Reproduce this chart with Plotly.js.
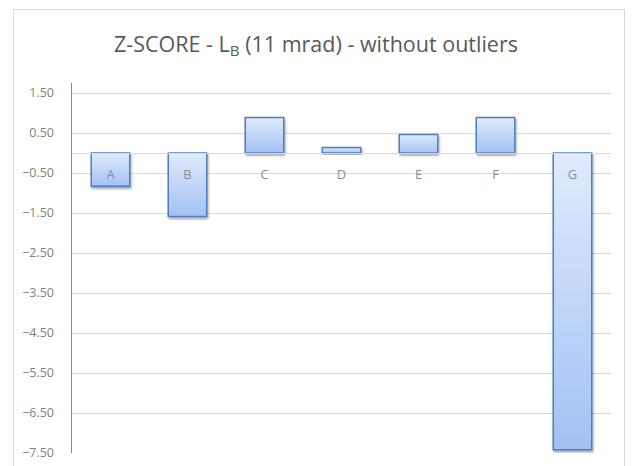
<!DOCTYPE html>
<html>
<head>
<meta charset="utf-8">
<script src="https://cdn.plot.ly/plotly-3.0.1.min.js"></script>
<style>
html,body{margin:0;padding:0;background:#fff;}
#wrap{position:relative;width:632px;height:466px;}
#chart{position:absolute;left:0;top:0;width:632px;height:466px;}
#frame{position:absolute;left:13px;top:9px;width:612px;height:470px;border:1px solid #d9d9d9;pointer-events:none;box-sizing:border-box;}
</style>
</head>
<body>
<div id="wrap"><div id="chart"></div><div id="frame"></div></div>
<script>
var categories = ["A", "B", "C", "D", "E", "F", "G"];
var zScores = [-0.83, -1.59, 0.89, 0.14, 0.46, 0.89, -7.42];
var yTickValues = [1.5, 0.5, -0.5, -1.5, -2.5, -3.5, -4.5, -5.5, -6.5, -7.5];
var chartTitle = "Z-SCORE - L<sub>B</sub> (11 mrad) - without outliers";

var yMin = -7.5, yMax = 1.75;
var zeroPos = (0 - yMin) / (yMax - yMin);

var trace = {
  type: "bar",
  x: categories,
  y: zScores,
  marker: {color: "#c3d7f8", line: {color: "#4f7dbd", width: 1.5}},
  hoverinfo: "x+y"
};

var layout = {
  width: 632, height: 466,
  margin: {l: 72, r: 21, t: 83, b: 13},
  paper_bgcolor: "#ffffff",
  plot_bgcolor: "#ffffff",
  showlegend: false,
  bargap: 0.5,
  font: {family: "Open Sans, sans-serif", color: "#7f7f7f"},
  title: {
    text: chartTitle,
    font: {family: "Open Sans, sans-serif", size: 21.5, color: "#595959"},
    x: 0.5, xref: "container", xanchor: "center",
    y: 1 - 44 / 466, yref: "container", yanchor: "middle"
  },
  xaxis: {
    type: "category",
    anchor: "free",
    position: zeroPos,
    showline: true,
    linecolor: "#d9d9d9",
    linewidth: 1,
    showgrid: false,
    zeroline: false,
    ticks: "",
    ticklabelstandoff: 9,
    tickfont: {size: 13, color: "#8c8c8c"},
    fixedrange: true
  },
  yaxis: {
    range: [yMin, yMax],
    tickvals: yTickValues,
    tickformat: ".2f",
    showgrid: true,
    gridcolor: "#d9d9d9",
    gridwidth: 1,
    zeroline: false,
    showline: true,
    linecolor: "#8c8c8c",
    linewidth: 1.5,
    ticks: "",
    ticklabelstandoff: 14,
    tickfont: {size: 12.5, color: "#7f7f7f"},
    fixedrange: true
  }
};

Plotly.newPlot("chart", [trace], layout, {displayModeBar: false, staticPlot: true}).then(function (gd) {
  var svg = gd.querySelector("svg.main-svg");
  var ns = "http://www.w3.org/2000/svg";
  var defs = document.createElementNS(ns, "defs");
  defs.innerHTML =
    '<linearGradient id="barGrad" x1="0" y1="0" x2="0" y2="1">' +
    '<stop offset="0" stop-color="#e0ebfc"/>' +
    '<stop offset="1" stop-color="#a2c1f4"/>' +
    '</linearGradient>' +
    '<filter id="barShadow" x="-20%" y="-20%" width="150%" height="150%">' +
    '<feDropShadow dx="1" dy="2" stdDeviation="1.2" flood-color="#000" flood-opacity="0.35"/>' +
    '</filter>';
  svg.insertBefore(defs, svg.firstChild);
  gd.querySelectorAll(".trace.bars .point path").forEach(function (p) {
    p.style.fill = "url(#barGrad)";
    p.style.fillOpacity = "1";
    p.setAttribute("filter", "url(#barShadow)");
  });
});
</script>
</body>
</html>
